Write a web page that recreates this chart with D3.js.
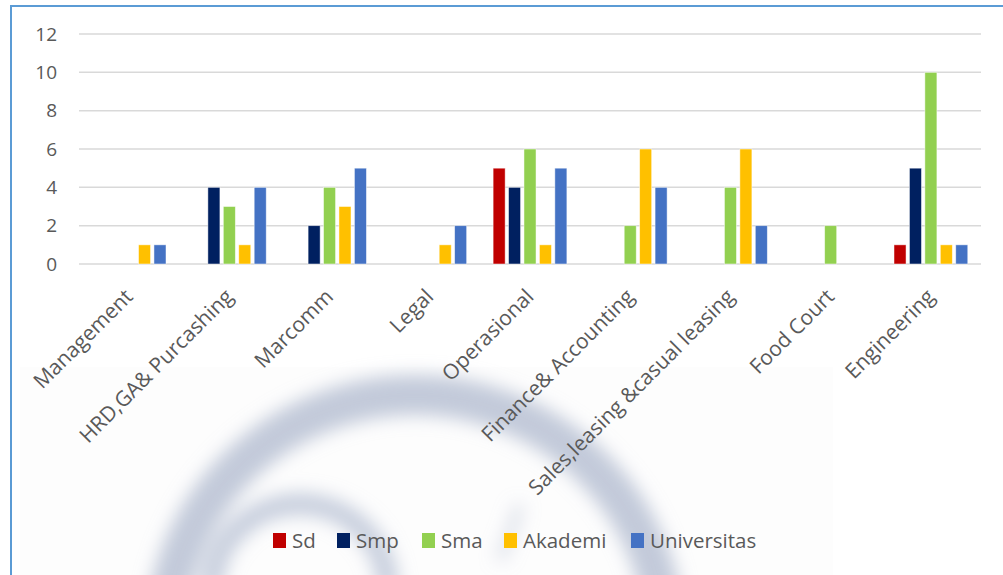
<!DOCTYPE html>
<html>
<head>
<meta charset="utf-8">
<script src="https://cdnjs.cloudflare.com/ajax/libs/d3/7.8.5/d3.min.js"></script>
<style>
  html, body { margin: 0; padding: 0; background: #fff; }
  svg { display: block; font-family: "Open Sans", sans-serif; }
</style>
</head>
<body>
<svg id="chart" width="1003" height="575"></svg>
<script>

// ===============================
// DATA
// ===============================

const categories = ["Management", "HRD,GA& Purcashing", "Marcomm", "Legal", "Operasional",
    "Finance& Accounting", "Sales,leasing &casual leasing", "Food Court", "Engineering"];

const seriesNames = ["Sd", "Smp", "Sma", "Akademi", "Universitas"];

const sd          = [0, 0, 0, 0, 5, 0, 0, 0, 1];
const smp         = [0, 4, 2, 0, 4, 0, 0, 0, 5];
const sma         = [0, 3, 4, 0, 6, 2, 4, 2, 10];
const akademi     = [1, 1, 3, 1, 1, 6, 6, 0, 1];
const universitas = [1, 4, 5, 2, 5, 4, 2, 0, 1];

const yTicks = [0, 2, 4, 6, 8, 10, 12];

const colors = ["#c00000", "#002060", "#92d050", "#ffc000", "#4472c4"];

const series = [sd, smp, sma, akademi, universitas];

// ===============================
// SETUP
// ===============================

const svg = d3.select("#chart");

const plot = { left: 79, right: 981, top: 34, bottom: 264 };

const x0 = d3.scaleBand()
    .domain(categories)
    .range([plot.left, plot.right])
    .paddingInner(0.23)
    .paddingOuter(0.115);

const x1 = d3.scaleBand()
    .domain(seriesNames)
    .range([0, x0.bandwidth()])
    .paddingInner(0.22)
    .paddingOuter(0.11);

const y = d3.scaleLinear()
    .domain([0, 12])
    .range([plot.bottom, plot.top]);

// ===============================
// WATERMARK (background swirl)
// ===============================

const defs = svg.append("defs");

defs.append("filter")
    .attr("id", "blur")
    .attr("x", "-50%").attr("y", "-50%")
    .attr("width", "200%").attr("height", "200%")
    .append("feGaussianBlur")
    .attr("stdDeviation", 9);

svg.append("rect")
    .attr("x", 20).attr("y", 367)
    .attr("width", 813).attr("height", 208)
    .attr("fill", "#fdfdfd");

const wm = svg.append("g").attr("filter", "url(#blur)");

wm.append("path")
    .attr("d", "M 165 640 A 250 245 0 0 1 665 640")
    .attr("fill", "none")
    .attr("stroke", "#b4bdd1")
    .attr("stroke-width", 40)
    .attr("opacity", 0.8);

wm.append("path")
    .attr("d", "M 212 590 A 88 86 0 0 1 388 590")
    .attr("fill", "none")
    .attr("stroke", "#b4bdd1")
    .attr("stroke-width", 22)
    .attr("opacity", 0.75);

wm.append("path")
    .attr("d", "M 500 560 Q 512 530 520 505")
    .attr("fill", "none")
    .attr("stroke", "#b4bdd1")
    .attr("stroke-width", 8)
    .attr("opacity", 0.6);

// ===============================
// FRAME
// ===============================

svg.append("line")
    .attr("x1", 11).attr("x2", 11)
    .attr("y1", 5).attr("y2", 575)
    .attr("stroke", "#5b9bd5").attr("stroke-width", 2);

svg.append("line")
    .attr("x1", 11).attr("x2", 1003)
    .attr("y1", 6).attr("y2", 6)
    .attr("stroke", "#5b9bd5").attr("stroke-width", 2);

// ===============================
// GRID + Y AXIS
// ===============================

svg.append("g")
    .selectAll("line")
    .data(yTicks)
    .enter()
    .append("line")
    .attr("x1", plot.left)
    .attr("x2", plot.right)
    .attr("y1", d => y(d))
    .attr("y2", d => y(d))
    .attr("stroke", "#d9d9d9")
    .attr("stroke-width", 1.5);

svg.append("g")
    .selectAll("text")
    .data(yTicks)
    .enter()
    .append("text")
    .attr("x", 57)
    .attr("y", d => y(d))
    .attr("dy", "0.35em")
    .attr("text-anchor", "end")
    .attr("font-size", 19)
    .attr("fill", "#595959")
    .text(d => d);

// ===============================
// BARS
// ===============================

const groups = svg.append("g")
    .selectAll("g")
    .data(categories)
    .enter()
    .append("g")
    .attr("transform", d => `translate(${x0(d)},0)`);

groups.selectAll("rect")
    .data((d, i) => seriesNames.map((s, j) => ({ s: s, v: series[j][i], c: colors[j] })))
    .enter()
    .filter(d => d.v > 0)
    .append("rect")
    .attr("x", d => x1(d.s))
    .attr("y", d => y(d.v))
    .attr("width", x1.bandwidth())
    .attr("height", d => y(0) - y(d.v))
    .attr("fill", d => d.c)
    .attr("stroke", "#ffffff")
    .attr("stroke-opacity", 0.6)
    .attr("stroke-width", 0.8);

// ===============================
// X LABELS
// ===============================

svg.append("g")
    .selectAll("text")
    .data(categories)
    .enter()
    .append("text")
    .attr("transform", d => `translate(${x0(d) + x0.bandwidth() / 2 + 5},${298}) rotate(-45)`)
    .attr("text-anchor", "end")
    .attr("font-size", 21)
    .attr("fill", "#595959")
    .text(d => d);

// ===============================
// LEGEND
// ===============================

const legendX = [273, 337, 422, 504, 631];

const legend = svg.append("g")
    .selectAll("g")
    .data(seriesNames)
    .enter()
    .append("g")
    .attr("transform", (d, i) => `translate(${legendX[i]},533)`);

legend.append("rect")
    .attr("width", 13)
    .attr("height", 15)
    .attr("fill", (d, i) => colors[i]);

legend.append("text")
    .attr("x", 19)
    .attr("y", 7.5)
    .attr("dy", "0.36em")
    .attr("font-size", 20.5)
    .attr("fill", "#595959")
    .text(d => d);

</script>
</body>
</html>
